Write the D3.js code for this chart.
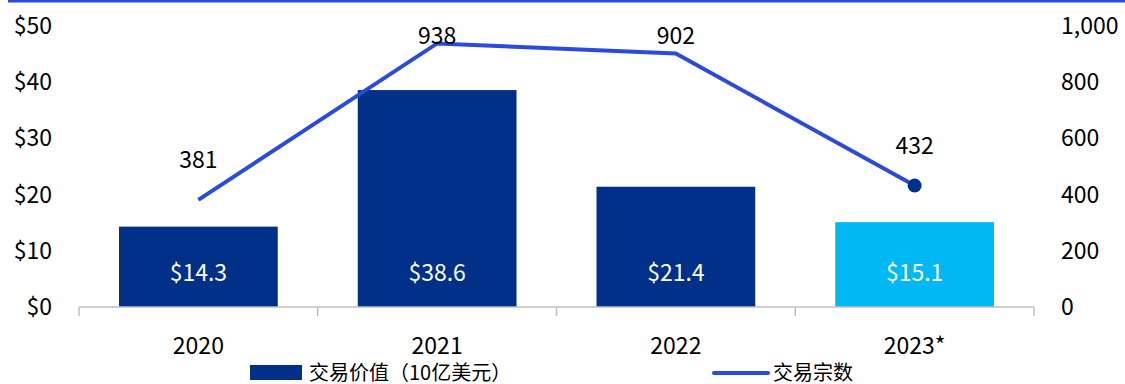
<!DOCTYPE html>
<html>
<head>
<meta charset="utf-8">
<script src="https://cdn.jsdelivr.net/npm/d3@7"></script>
<style>
  html, body { margin: 0; padding: 0; background: #fff; }
  svg { display: block; font-family: "Noto Sans CJK SC", "Noto Sans", sans-serif; }
</style>
</head>
<body>
<svg id="chart" width="1125" height="384"></svg>
<script>
// Data
const years = ["2020", "2021", "2022", "2023*"];
const dealValue = [14.3, 38.6, 21.4, 15.1];      // 交易价值（10亿美元）
const dealCount = [381, 938, 902, 432];          // 交易宗数
const leftTicks = [0, 10, 20, 30, 40, 50];
const rightTicks = [0, 200, 400, 600, 800, 1000];
const legendLabels = ["交易价值（10亿美元）", "交易宗数"];

const navy = "#003087";
const sky = "#00B9F2";
const lineBlue = "#2B4BDD";

const svg = d3.select("#chart");
const W = 1125, H = 384;
const m = { left: 79, right: 1034, top: 26, bottom: 307 };

// Accent rule across the top
svg.append("rect").attr("x", 8).attr("y", 0).attr("width", W - 8).attr("height", 2.5).attr("fill", lineBlue);

const x = d3.scaleBand().domain(years).range([m.left, m.right]).padding(0);
const yL = d3.scaleLinear().domain([0, 50]).range([m.bottom, m.top]);
const yR = d3.scaleLinear().domain([0, 1000]).range([m.bottom, m.top]);
const barW = x.bandwidth() * 0.665;
const cx = d => x(d) + x.bandwidth() / 2;

// Bars
svg.append("g").selectAll("rect").data(years).join("rect")
  .attr("x", d => cx(d) - barW / 2)
  .attr("y", (d, i) => yL(dealValue[i]))
  .attr("width", barW)
  .attr("height", (d, i) => yL(0) - yL(dealValue[i]))
  .attr("fill", (d, i) => i === years.length - 1 ? sky : navy);

// Bar value labels
svg.append("g").selectAll("text").data(years).join("text")
  .attr("x", d => cx(d))
  .attr("y", yL(0) - 26)
  .attr("text-anchor", "middle")
  .attr("font-size", 23)
  .attr("fill", "#fff")
  .text((d, i) => "$" + dealValue[i].toFixed(1));

// X axis
const xAxis = svg.append("g").attr("transform", `translate(0,${m.bottom})`);
xAxis.append("line").attr("x1", m.left).attr("x2", m.right).attr("stroke", "#bfbfbf").attr("stroke-width", 1.5);
const bounds = years.map(d => x(d)).concat([m.right]);
xAxis.selectAll("line.tick").data(bounds).join("line").attr("class", "tick")
  .attr("x1", d => d).attr("x2", d => d).attr("y1", 0).attr("y2", 9)
  .attr("stroke", "#bfbfbf").attr("stroke-width", 1.5);
xAxis.selectAll("text").data(years).join("text")
  .attr("x", d => cx(d)).attr("y", 47)
  .attr("text-anchor", "middle").attr("font-size", 23).attr("fill", "#000")
  .text(d => d);

// Left axis labels
svg.append("g").selectAll("text").data(leftTicks).join("text")
  .attr("x", 52).attr("y", d => yL(d)).attr("dy", "0.35em")
  .attr("text-anchor", "end").attr("font-size", 23).attr("fill", "#000")
  .text(d => "$" + d);

// Right axis labels
svg.append("g").selectAll("text").data(rightTicks).join("text")
  .attr("x", 1061).attr("y", d => yR(d)).attr("dy", "0.35em")
  .attr("text-anchor", "start").attr("font-size", 23).attr("fill", "#000")
  .text(d => d3.format(",")(d));

// Deal count line
const line = d3.line().x((d, i) => cx(years[i])).y(d => yR(d));
svg.append("path").datum(dealCount)
  .attr("d", line).attr("fill", "none")
  .attr("stroke", lineBlue).attr("stroke-width", 4).attr("stroke-linejoin", "miter");

// Marker on the latest point
svg.append("circle")
  .attr("cx", cx(years[3])).attr("cy", yR(dealCount[3])).attr("r", 7)
  .attr("fill", navy);

// Line value labels
svg.append("g").selectAll("text").data(dealCount).join("text")
  .attr("x", (d, i) => cx(years[i]))
  .attr("y", d => Math.max(yR(d) - 40, 36)).attr("dy", "0.35em")
  .attr("text-anchor", "middle").attr("font-size", 23).attr("fill", "#000")
  .text(d => d3.format("")(d));

// Legend
const lg = svg.append("g");
lg.append("rect").attr("x", 250).attr("y", 365).attr("width", 52).attr("height", 15).attr("fill", navy);
lg.append("text").attr("x", 309).attr("y", 373).attr("dy", "0.35em").attr("font-size", 20).attr("fill", "#000").text(legendLabels[0]);
lg.append("line").attr("x1", 714).attr("x2", 768).attr("y1", 373).attr("y2", 373).attr("stroke", lineBlue).attr("stroke-width", 4).attr("stroke-linecap", "round");
lg.append("text").attr("x", 773).attr("y", 373).attr("dy", "0.35em").attr("font-size", 20).attr("fill", "#000").text(legendLabels[1]);
</script>
</body>
</html>
